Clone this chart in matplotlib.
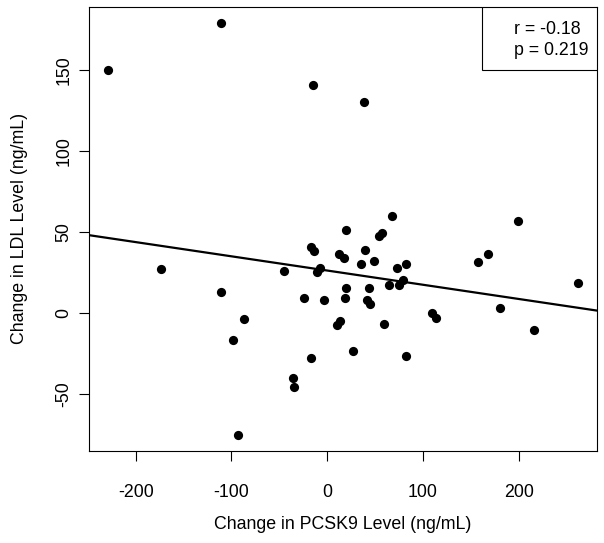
import numpy as np
import matplotlib
matplotlib.use("Agg")
import matplotlib.pyplot as plt
from matplotlib.patches import Rectangle

# change in PCSK9 (x) vs change in LDL (y)
pcsk9_change = [-229.4, -111.0, -15.3, 37.9,
                -173.8, -111.3, -87.0, -98.4, -93.5, -35.9, -34.4,
                -45.3, -16.7, -14.0, 19.8, 68.1, 53.8, 57.3, 12.5, 17.0,
                38.9, 35.5, 48.6, -10.4, -7.7, 73.0, 82.0, 64.7, 74.7, 79.6,
                19.8, 43.1, 18.4, -24.4, -3.9, 41.0, 44.4, 109.5, 114.0,
                9.7, 13.1, 59.7, -17.1, 26.4, 82.4,
                198.8, 167.5, 157.4, 262.0, 180.0, 215.4]
ldl_change = [150.6, 179.3, 140.9, 130.4,
              27.2, 13.1, -3.7, -16.7, -75.3, -40.6, -45.7,
              26.1, 40.5, 38.0, 51.2, 60.2, 47.3, 49.4, 36.4, 34.1,
              39.1, 30.2, 32.3, 25.5, 27.5, 28.0, 30.2, 17.3, 17.3, 20.6,
              15.4, 15.4, 9.3, 9.4, 8.2, 8.2, 5.3, -0.2, -3.3,
              -7.7, -4.8, -6.8, -27.8, -23.7, -26.4,
              57.0, 36.2, 31.2, 18.3, 3.3, -10.7]

# regression line as drawn in the figure
fit_intercept = 26.2
fit_slope = -0.088

stats_text = ["r = -0.18", "p = 0.219"]

FONT = "Liberation Sans"
FS = 12.8

plt.rcParams['font.family'] = [FONT, 'DejaVu Sans']

x = np.array(pcsk9_change)
y = np.array(ldl_change)

fig = plt.figure(figsize=(6.04, 5.43), dpi=100)
ax = fig.add_axes([0.1469, 0.1694, 0.8415, 0.8183])

ax.scatter(x, y, s=44, color='black', zorder=3, linewidths=0)

# R-style 4% padding around the data range
xr = x.max() - x.min()
yr = y.max() - y.min()
ax.set_xlim(x.min() - 0.04 * xr, x.max() + 0.04 * xr)
ax.set_ylim(y.min() - 0.04 * yr, y.max() + 0.04 * yr)

xs = np.array(ax.get_xlim())
ax.plot(xs, fit_intercept + fit_slope * xs, color='black', lw=1.6, zorder=2)

ax.set_xticks([-200, -100, 0, 100, 200])
ax.set_yticks([-50, 0, 50, 100, 150])
ax.set_xticklabels(['-200', '-100', '0', '100', '200'])
ax.set_yticklabels(['-50', '0', '50', '100', '150'])
ax.tick_params(axis='both', length=7.2, width=0.8, labelsize=FS)
ax.tick_params(axis='x', pad=16.5)
ax.tick_params(axis='y', pad=4.5, labelrotation=90)
for lbl in ax.get_yticklabels():
    lbl.set_va('center')

for sp in ax.spines.values():
    sp.set_linewidth(0.8)

ax.set_xlabel('Change in PCSK9 Level (ng/mL)', fontsize=FS, labelpad=11)
ax.set_ylabel('Change in LDL Level (ng/mL)', fontsize=FS, labelpad=20)

# stats box in the top right corner
ax.add_patch(Rectangle((0.7743, 0.8575), 0.2257, 0.1425, transform=ax.transAxes,
                       facecolor='white', edgecolor='black', lw=0.8, zorder=4))
ax.text(0.836, 0.949, stats_text[0], transform=ax.transAxes, fontsize=FS,
        va='center', ha='left', zorder=5)
ax.text(0.836, 0.9025, stats_text[1], transform=ax.transAxes, fontsize=FS,
        va='center', ha='left', zorder=5)

fig.savefig('out.png', dpi=100)
